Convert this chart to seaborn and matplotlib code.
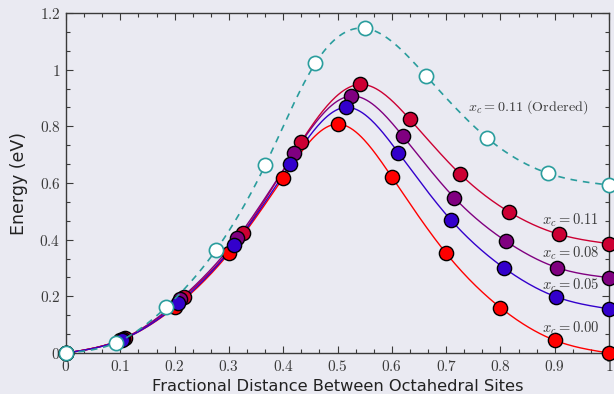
import numpy as np
import pandas as pd
import matplotlib
matplotlib.use("Agg")
import matplotlib.pyplot as plt
from matplotlib.ticker import MultipleLocator, AutoMinorLocator, FuncFormatter
import seaborn as sns

# Energy profiles along the path between octahedral sites
x_ordered = [0.0, 0.092, 0.184, 0.276, 0.367, 0.459, 0.551, 0.663, 0.776, 0.888, 1.0]
e_ordered = [0.0, 0.036, 0.161, 0.363, 0.664, 1.022, 1.146, 0.978, 0.758, 0.634, 0.593]

x_000 = [0.0, 0.1, 0.2, 0.3, 0.4, 0.5, 0.6, 0.7, 0.8, 0.9, 1.0]
e_000 = [0.0, 0.045, 0.161, 0.352, 0.619, 0.808, 0.621, 0.352, 0.160, 0.045, 0.0]

x_005 = [0.0, 0.103, 0.207, 0.310, 0.413, 0.515, 0.612, 0.709, 0.806, 0.903, 1.0]
e_005 = [0.0, 0.047, 0.175, 0.381, 0.667, 0.867, 0.707, 0.469, 0.301, 0.198, 0.156]

x_008 = [0.0, 0.105, 0.210, 0.315, 0.420, 0.525, 0.620, 0.715, 0.810, 0.905, 1.0]
e_008 = [0.0, 0.050, 0.190, 0.405, 0.705, 0.907, 0.766, 0.548, 0.395, 0.301, 0.266]

x_011 = [0.0, 0.108, 0.217, 0.325, 0.433, 0.541, 0.633, 0.725, 0.816, 0.908, 1.0]
e_011 = [0.0, 0.053, 0.198, 0.422, 0.746, 0.948, 0.825, 0.633, 0.498, 0.419, 0.386]

series_labels = ["$x_c = 0.11$", "$x_c = 0.08$", "$x_c = 0.00$", "$x_c = 0.05$"]
ordered_label = r"$x_c = 0.11\ \mathrm{(Ordered)}$"


def natural_spline(x, y, xs):
    """Evaluate a natural cubic spline through (x, y) at xs."""
    x = np.asarray(x, float)
    y = np.asarray(y, float)
    n = len(x)
    h = np.diff(x)
    A = np.zeros((n, n))
    rhs = np.zeros(n)
    A[0, 0] = A[-1, -1] = 1.0
    for i in range(1, n - 1):
        A[i, i - 1] = h[i - 1]
        A[i, i] = 2 * (h[i - 1] + h[i])
        A[i, i + 1] = h[i]
        rhs[i] = 3 * ((y[i + 1] - y[i]) / h[i] - (y[i] - y[i - 1]) / h[i - 1])
    c = np.linalg.solve(A, rhs)
    b = (y[1:] - y[:-1]) / h - h * (2 * c[:-1] + c[1:]) / 3
    d = (c[1:] - c[:-1]) / (3 * h)
    idx = np.clip(np.searchsorted(x, xs, side="right") - 1, 0, n - 2)
    t = xs - x[idx]
    return y[idx] + b[idx] * t + c[idx] * t ** 2 + d[idx] * t ** 3


sns.set_theme(style="dark")
bg = "#eaeaf2"
plt.rcParams.update({
    "figure.facecolor": bg,
    "axes.facecolor": bg,
    "mathtext.fontset": "cm",
    "axes.edgecolor": "#3a3a3a",
    "axes.linewidth": 1.0,
    "xtick.direction": "in",
    "ytick.direction": "in",
    "xtick.color": "#3a3a3a",
    "ytick.color": "#3a3a3a",
    "xtick.labelcolor": "#3a3a3a",
    "ytick.labelcolor": "#3a3a3a",
})
plt.rcParams["font.family"] = ["DejaVu Sans"]

fig, ax = plt.subplots(figsize=(6.14, 3.94), dpi=100)
fig.subplots_adjust(left=0.1075, right=0.992, top=0.967, bottom=0.104)

xs = np.linspace(0, 1, 400)
curves = [
    (x_011, e_011, "#cc0033"),
    (x_008, e_008, "#800080"),
    (x_000, e_000, "#ff0000"),
    (x_005, e_005, "#3300cc"),
]

for xv, ev, col in curves:
    df_line = pd.DataFrame({"x": xs, "E": natural_spline(xv, ev, xs)})
    sns.lineplot(data=df_line, x="x", y="E", color=col, lw=1.0, ax=ax, zorder=2)
for xv, ev, col in curves:
    df_pts = pd.DataFrame({"x": xv, "E": ev})
    sns.scatterplot(data=df_pts, x="x", y="E", color=col, s=105, edgecolor="black",
                    linewidth=1.0, ax=ax, zorder=3, clip_on=False)

df_ord = pd.DataFrame({"x": xs, "E": natural_spline(x_ordered, e_ordered, xs)})
sns.lineplot(data=df_ord, x="x", y="E", color="#2a9d9d", lw=1.2, ax=ax, zorder=4,
             dashes=False, linestyle=(0, (4, 3.5)))
sns.scatterplot(data=pd.DataFrame({"x": x_ordered, "E": e_ordered}), x="x", y="E",
                color="white", s=105, edgecolor="#2a9d9d", linewidth=1.2, ax=ax,
                zorder=5, clip_on=False)

ax.set_xlim(0, 1)
ax.set_ylim(0, 1.2)
ax.xaxis.set_major_locator(MultipleLocator(0.1))
ax.yaxis.set_major_locator(MultipleLocator(0.2))
ax.xaxis.set_minor_locator(AutoMinorLocator(3))
ax.yaxis.set_minor_locator(AutoMinorLocator(3))
fmt = FuncFormatter(lambda v, _: f"${v:g}$")
ax.xaxis.set_major_formatter(fmt)
ax.yaxis.set_major_formatter(fmt)
ax.tick_params(which="both", top=True, right=True, bottom=True, left=True,
               labelsize=11, width=0.8)
ax.tick_params(which="major", length=5, pad=4)
ax.tick_params(which="minor", length=3)
for s in ax.spines.values():
    s.set_visible(True)

ax.set_xlabel("Fractional Distance Between Octahedral Sites", fontsize=11.7,
              color="#222222", labelpad=4)
ax.set_ylabel("Energy (eV)", fontsize=12.5, color="#222222", labelpad=8)

label_y = [0.469, 0.353, 0.088, 0.240]
for lab, yy in zip(series_labels, label_y):
    ax.text(0.982, yy, lab, ha="right", va="center", fontsize=10.5, color="#3a3a3a")
ax.text(0.740, 0.868, ordered_label, ha="left", va="center", fontsize=10.2, color="#3a3a3a")

fig.savefig("out.png", dpi=100, facecolor=bg)
